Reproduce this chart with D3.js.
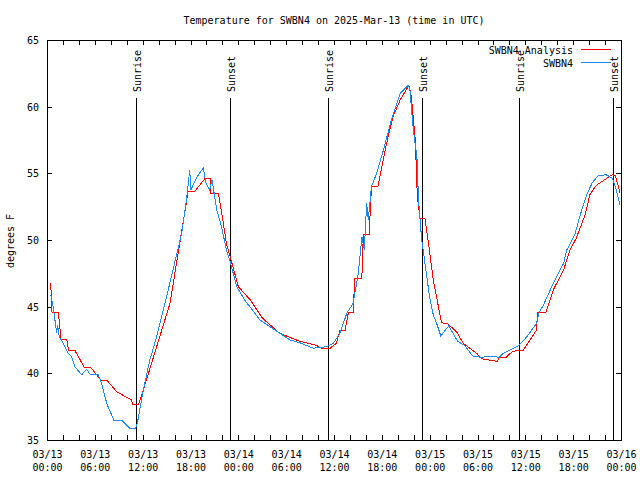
<!DOCTYPE html>
<html><head><meta charset="utf-8">
<script src="https://cdn.jsdelivr.net/npm/d3@7"></script>
<style>
body{margin:0;background:#fff;}
text{font-family:"DejaVu Sans Mono","Liberation Mono",monospace;font-size:10px;fill:#000;}
</style></head>
<body><svg id="c" width="640" height="480"></svg>
<script>
// hours since 2025-03-13 00:00 UTC
const startTime = "2025-03-13T00:00:00Z";
const analysisHours = [0.46,0.63,1.42,1.76,2.47,2.7,3.47,4.68,5.48,6.74,7.49,8.74,10.6,10.75,11.5,12.08,15.43,17.7,18.5,19.8,20.45,20.5,21.5,21.9,22.5,23.2,24.0,25.5,27.0,29.2,31.7,33.8,34.4,35.5,36.3,36.75,37.4,37.8,38.4,38.6,39.5,39.55,39.7,40.4,40.7,41.5,42.6,43.4,44.3,45.4,45.7,46.2,46.45,46.8,47.4,47.8,48.45,49.1,49.5,50.3,51.4,52.2,53.9,54.5,55.4,56.5,56.7,57.6,58.3,59.1,59.75,60.6,61.4,61.55,62.55,63.5,64.8,65.6,66.4,67.5,68.1,68.9,69.9,70.9,71.3,71.9];
const analysisTemps = [46.8,44.6,44.6,42.55,42.55,41.75,41.75,40.45,40.45,39.5,39.5,38.62,38.0,37.7,37.7,38.75,45.25,53.62,53.62,54.6,54.6,53.5,53.5,52.1,49.75,48.25,46.5,45.5,44.15,43.0,42.4,42.1,41.88,41.88,42.25,43.25,43.25,44.55,44.55,47.1,47.1,48.6,50.4,50.4,54.0,54.0,57.25,59.25,60.5,61.6,60.75,57.5,53.25,51.63,51.63,50.0,47.0,45.0,43.8,43.7,43.1,42.25,41.5,41.1,41.0,40.9,41.2,41.2,41.6,41.75,41.75,42.5,43.25,44.55,44.55,46.25,47.75,49.25,50.15,51.9,53.4,54.1,54.5,54.9,54.8,53.5];
const obsHours = [0.46,0.8,1.13,1.2,1.34,1.54,2.05,2.55,3.1,3.5,4.35,4.98,5.4,6.43,6.86,7.49,8.4,9.37,10.4,11.1,11.33,12.08,12.9,13.76,15.2,16.9,17.5,17.9,18.06,18.4,19.0,19.6,19.95,20.4,20.7,21.3,21.9,22.5,22.96,23.8,24.8,26.7,28.6,30.5,31.7,33.4,35.1,35.9,36.75,37.6,38.4,39.05,39.5,39.8,40.1,40.3,40.7,41.35,42.2,43.2,44.3,45.3,45.5,45.95,46.4,46.6,47.0,47.3,47.6,48.0,48.45,48.9,49.4,50.4,51.5,52.4,53.4,54.5,55.6,56.7,57.2,58.1,59.2,60.2,61.4,61.75,62.25,63.5,64.8,65.2,66.2,66.9,67.7,68.4,69.1,70.1,70.9,71.4,71.9];
const obsTemps = [45.9,44.9,43.4,43.0,43.6,42.75,42.25,41.6,41.25,40.5,39.9,40.3,39.93,39.88,39.25,37.75,36.45,36.5,35.88,35.88,36.25,38.75,41.0,42.75,46.25,50.5,53.0,55.25,53.75,54.25,54.9,55.4,54.25,53.75,54.5,52.25,51.0,49.25,48.4,46.5,45.5,44.0,43.25,42.5,42.3,41.88,42.0,42.25,43.0,44.5,45.25,47.5,50.25,49.25,52.75,51.5,54.0,55.0,56.75,59.0,61.0,61.6,61.4,58.25,56.25,53.0,50.0,48.75,47.4,45.7,44.4,43.7,42.8,43.57,42.4,42.1,41.3,41.2,41.3,41.2,41.5,41.75,42.1,42.75,43.75,44.6,45.1,46.75,48.25,49.25,50.4,51.9,53.4,54.3,54.8,54.9,54.65,53.75,52.6];
const sunEvents = [
  {label:"Sunrise", time:"2025-03-13T11:12:00Z"},
  {label:"Sunset",  time:"2025-03-13T22:58:00Z"},
  {label:"Sunrise", time:"2025-03-14T11:16:00Z"},
  {label:"Sunset",  time:"2025-03-14T23:04:00Z"},
  {label:"Sunrise", time:"2025-03-15T11:14:00Z"},
  {label:"Sunset",  time:"2025-03-15T23:03:00Z"}
];
const yTicks = [35,40,45,50,55,60,65];
const seriesNames = ["SWBN4 Analysis","SWBN4"];
const seriesColors = ["#ff0000","#1e88f0"];
const titleText = "Temperature for SWBN4 on 2025-Mar-13 (time in UTC)";
const yLabel = "degrees F";

const t0 = new Date(startTime);
const toDate = h => new Date(t0.getTime() + h*3600e3);
const analysis = analysisHours.map((h,i)=>({t:toDate(h), v:analysisTemps[i]}));
const obs = obsHours.map((h,i)=>({t:toDate(h), v:obsTemps[i]}));

const L=47, R=621, T=40, B=440;
const svg = d3.select("#c");
const x = d3.scaleUtc().domain([t0, d3.utcHour.offset(t0,72)]).range([L,R]);
const y = d3.scaleLinear().domain([35,65]).range([B,T]);

// title
svg.append("text").attr("x",(L+R)/2).attr("y",24).attr("text-anchor","middle").text(titleText);
// y label
svg.append("text").attr("transform","translate(14,241) rotate(-90)").attr("text-anchor","middle").text(yLabel);

const fmtD = d3.utcFormat("%m/%d"), fmtH = d3.utcFormat("%H:%M");
const xTickVals = d3.utcHour.every(2).range(t0, d3.utcHour.offset(t0,73));

// bottom axis
const gx = svg.append("g").attr("transform",`translate(0,${B})`)
  .call(d3.axisBottom(x).tickValues(xTickVals).tickSizeInner(-5).tickSizeOuter(0).tickPadding(0).tickFormat(""));
gx.select(".domain").remove();
gx.selectAll(".tick").each(function(d){
  if (d.getUTCHours()%6===0){
    const t = d3.select(this).append("text").attr("text-anchor","middle").attr("fill","#000");
    t.append("tspan").attr("x",0).attr("y",18).text(fmtD(d));
    t.append("tspan").attr("x",0).attr("y",31).text(fmtH(d));
  }
});
// top axis
const gxt = svg.append("g").attr("transform",`translate(0,${T})`)
  .call(d3.axisTop(x).tickValues(xTickVals).tickSizeInner(-5).tickSizeOuter(0).tickFormat(""));
gxt.select(".domain").remove();
// left axis
const gy = svg.append("g").attr("transform",`translate(${L},0)`)
  .call(d3.axisLeft(y).tickValues(yTicks).tickSizeInner(-5).tickSizeOuter(0).tickPadding(8).tickFormat(d3.format("d")));
gy.select(".domain").remove();
gy.selectAll("text").attr("dy","0.35em").attr("x",-8);
// right axis
const gyr = svg.append("g").attr("transform",`translate(${R},0)`)
  .call(d3.axisRight(y).tickValues(yTicks).tickSizeInner(-5).tickSizeOuter(0).tickFormat(""));
gyr.select(".domain").remove();
svg.selectAll(".tick line").attr("stroke","#000").attr("shape-rendering","crispEdges");

// sunrise / sunset
sunEvents.forEach(e=>{
  const xp = Math.round(x(new Date(e.time)))+0.5;
  svg.append("line").attr("x1",xp).attr("x2",xp).attr("y1",98).attr("y2",B)
    .attr("stroke","#000").attr("shape-rendering","crispEdges");
  svg.append("text").attr("transform",`translate(${xp+4},92) rotate(-90)`).attr("text-anchor","start").text(e.label);
});

// lines
const line = d3.line().x(d=>x(d.t)).y(d=>y(d.v));
svg.append("path").datum(analysis).attr("d",line).attr("fill","none")
  .attr("stroke",seriesColors[0]).attr("stroke-width",1).attr("shape-rendering","crispEdges");
svg.append("path").datum(obs).attr("d",line).attr("fill","none")
  .attr("stroke",seriesColors[1]).attr("stroke-width",1).attr("shape-rendering","crispEdges");

// legend
seriesNames.forEach((n,i)=>{
  const yy = 49.5 + i*13;
  svg.append("text").attr("x",573).attr("y",yy+4).attr("text-anchor","end").text(n);
  svg.append("line").attr("x1",581).attr("x2",611).attr("y1",yy).attr("y2",yy)
    .attr("stroke",seriesColors[i]).attr("stroke-width",1).attr("shape-rendering","crispEdges");
});

// frame
svg.append("rect").attr("x",L+0.5).attr("y",T+0.5).attr("width",R-L).attr("height",B-T)
  .attr("fill","none").attr("stroke","#000").attr("shape-rendering","crispEdges");
</script>
</body></html>
